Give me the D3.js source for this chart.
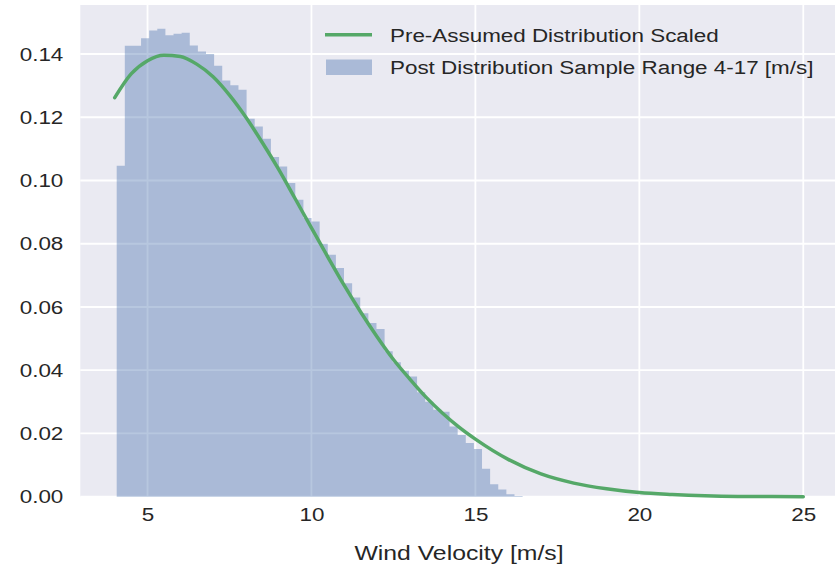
<!DOCTYPE html>
<html>
<head>
<meta charset="utf-8">
<script src="https://cdn.jsdelivr.net/npm/d3@7"></script>
<style>
  body { margin: 0; background: #fff; }
  text { font-family: "Liberation Sans", Arial, sans-serif; fill: #262626; }
</style>
</head>
<body>
<div class="chart"></div>
<script>
// histogram bins (density)
const binStart = 4.06;
const binWidth = 0.2476;
const binHeights = [
  0.1047, 0.1426, 0.1426, 0.1450, 0.1474, 0.1480, 0.1459, 0.1464, 0.1467, 0.1427,
  0.1408, 0.1400, 0.1363, 0.1316, 0.1301, 0.1287, 0.1195, 0.1171, 0.1132, 0.1074,
  0.1044, 0.0992, 0.0939, 0.0881, 0.0870, 0.0800, 0.0765, 0.0723, 0.0675, 0.0630,
  0.0580, 0.0549, 0.0530, 0.0460, 0.0425, 0.0398, 0.0380, 0.0330, 0.0300, 0.0275,
  0.0269, 0.0222, 0.0195, 0.0170, 0.0151, 0.0088, 0.0039, 0.0023, 0.0008, 0.0002
];

// pre-assumed distribution curve
const curveX = [4, 4.5, 5, 5.5, 6, 6.5, 7, 7.5, 8, 8.5, 9, 9.5, 10, 10.5, 11, 11.5, 12, 12.5,
  13, 13.5, 14, 14.5, 15, 16, 17, 18, 19, 20, 21, 22, 23, 24, 25];
const curveY = [0.1262, 0.1337, 0.1379, 0.1396, 0.1392, 0.1368, 0.1328, 0.1270, 0.1200, 0.1120,
  0.1035, 0.0943, 0.0850, 0.0758, 0.0668, 0.0584, 0.0506, 0.0434, 0.0372, 0.0314, 0.0264,
  0.0220, 0.0182, 0.0118, 0.0072, 0.0043, 0.0025, 0.0013, 0.0007, 0.0003, 0.0001, 0.00005, 0.00002];

const xTicks = [5, 10, 15, 20, 25];
const yTicks = [0, 0.02, 0.04, 0.06, 0.08, 0.10, 0.12, 0.14];
const legendLabels = ["Pre-Assumed Distribution Scaled", "Post Distribution Sample Range 4-17 [m/s]"];
const xLabel = "Wind Velocity [m/s]";

let w = 835;
let h = 571;
let plotLeft = 80.3, plotRight = 837.7, plotTop = 5, plotBottom = 496.7;
let stretch = 1.18;

const svg = d3.select(".chart")
  .append("svg")
  .attr("width", w)
  .attr("height", h);

const xScale = d3.scaleLinear().domain([2.95, 26.05]).range([plotLeft, plotRight]);
const yScale = d3.scaleLinear().domain([0, 0.1555]).range([plotBottom, plotTop]);

svg.append("rect")
  .attr("x", plotLeft).attr("y", plotTop)
  .attr("width", plotRight - plotLeft).attr("height", plotBottom - plotTop)
  .attr("fill", "#eaeaf2");

// grid
svg.append("g").selectAll("line")
  .data(xTicks).enter().append("line")
  .attr("x1", d => xScale(d)).attr("x2", d => xScale(d))
  .attr("y1", plotTop).attr("y2", plotBottom)
  .attr("stroke", "#fff").attr("stroke-width", 1.8);
svg.append("g").selectAll("line")
  .data(yTicks).enter().append("line")
  .attr("x1", plotLeft).attr("x2", plotRight)
  .attr("y1", d => yScale(d)).attr("y2", d => yScale(d))
  .attr("stroke", "#fff").attr("stroke-width", 1.8);

// histogram as one stepped area so neighbouring bars don't leave seams
let steps = binHeights.map((d, i) => [binStart + i * binWidth, d]);
steps.push([binStart + binHeights.length * binWidth, binHeights[binHeights.length - 1]]);

const histArea = d3.area()
  .x(d => xScale(d[0]))
  .y0(plotBottom)
  .y1(d => yScale(d[1]))
  .curve(d3.curveStepAfter);

svg.append("path")
  .datum(steps)
  .attr("d", histArea)
  .attr("fill", "#4c72b0")
  .attr("fill-opacity", 0.4);

// curve
const line = d3.line()
  .x(d => xScale(d[0]))
  .y(d => yScale(d[1]))
  .curve(d3.curveMonotoneX);

svg.append("path")
  .datum(curveX.map((x, i) => [x, curveY[i]]))
  .attr("d", line)
  .attr("fill", "none")
  .attr("stroke", "#55a868")
  .attr("stroke-width", 3.5)
  .attr("stroke-linecap", "round");

// axes
const xAxis = d3.axisBottom(xScale).tickValues(xTicks).tickSize(0).tickPadding(11);
const gx = svg.append("g")
  .attr("transform", "translate(0," + plotBottom + ")")
  .call(xAxis);
gx.select(".domain").remove();
gx.selectAll("text")
  .style("font-size", "19px")
  .attr("transform", "scale(" + stretch + ",1)")
  .attr("fill", "#262626");

const yAxis = d3.axisLeft(yScale).tickValues(yTicks).tickFormat(d3.format(".2f")).tickSize(0).tickPadding(14.4);
const gy = svg.append("g")
  .attr("transform", "translate(" + plotLeft + ",0)")
  .call(yAxis);
gy.select(".domain").remove();
gy.selectAll("text")
  .style("font-size", "19px")
  .attr("transform", "scale(" + stretch + ",1)")
  .attr("fill", "#262626");

svg.append("text")
  .attr("text-anchor", "middle")
  .attr("transform", "translate(" + (plotLeft + plotRight) / 2 + ",560) scale(" + stretch + ",1)")
  .style("font-size", "21px")
  .text(xLabel);

// legend
const legend = svg.append("g");
legend.append("line")
  .attr("x1", 325).attr("x2", 372)
  .attr("y1", 34.8).attr("y2", 34.8)
  .attr("stroke", "#55a868").attr("stroke-width", 3.5);
legend.append("rect")
  .attr("x", 326).attr("y", 59.5)
  .attr("width", 46).attr("height", 15.5)
  .attr("fill", "#4c72b0").attr("fill-opacity", 0.4);
legend.selectAll("text")
  .data(legendLabels).enter().append("text")
  .attr("transform", (d, i) => "translate(390," + (41.5 + i * 32) + ") scale(" + stretch + ",1)")
  .style("font-size", "19px")
  .text(d => d);
</script>
</body>
</html>
